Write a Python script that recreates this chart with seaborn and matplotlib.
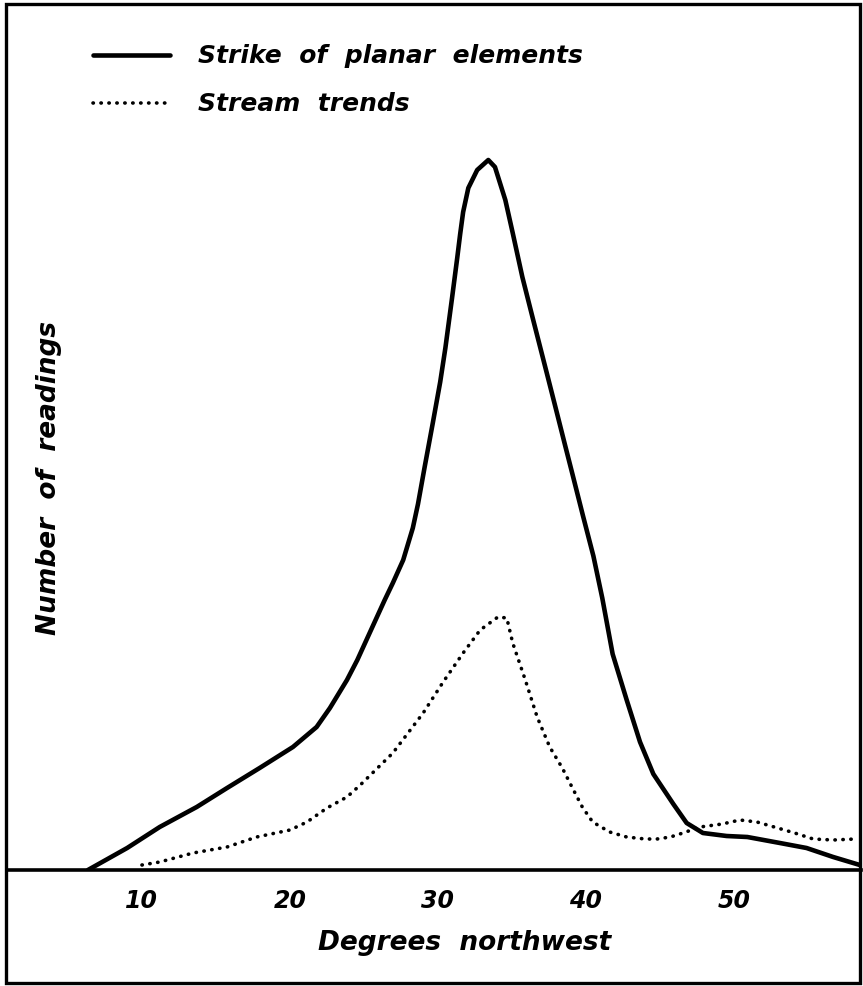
import matplotlib
matplotlib.use("Agg")
import matplotlib.pyplot as plt
from matplotlib.patches import Rectangle
import seaborn as sns
import pandas as pd

# Strike of planar elements (solid curve)
strike_deg = [6.35, 9.0, 11.2, 13.7, 15.75, 17.95, 20.2, 21.8, 22.7, 23.85, 24.55, 26.4,
              26.95, 27.65, 28.3, 28.65, 29.1, 29.65, 30.15, 30.5, 30.95, 31.3, 31.5, 31.7,
              32.05, 32.65, 33.4, 33.85, 34.55, 35.05, 35.7, 36.4, 37.35, 37.9, 38.6, 39.1,
              39.8, 40.5, 41.1, 41.8, 42.75, 43.65, 44.55, 45.9, 46.8, 47.9, 49.5, 50.9,
              53.1, 54.9, 56.7, 58.5]
strike_n = [0.0, 1.1, 2.15, 3.15, 4.1, 5.1, 6.15, 7.15, 8.1, 9.5, 10.5, 13.5,
            14.35, 15.5, 17.1, 18.3, 20.15, 22.35, 24.4, 26.1, 28.6, 30.6, 31.8, 32.9,
            34.1, 35.0, 35.5, 35.15, 33.5, 31.85, 29.65, 27.6, 24.85, 23.25, 21.2, 19.75,
            17.7, 15.7, 13.6, 10.8, 8.5, 6.4, 4.8, 3.3, 2.35, 1.85, 1.7, 1.65,
            1.35, 1.1, 0.65, 0.25]

# Stream trends (dotted curve)
stream_deg = [10.0, 11.2, 13.45, 15.75, 17.75, 20.0, 21.15, 22.5, 23.85, 24.75, 26.95, 29.0,
              30.35, 31.7, 32.85, 34.05, 34.65, 35.05, 35.9, 36.7, 37.55, 38.4, 39.05, 39.75,
              40.45, 41.6, 42.75, 44.0, 44.8, 45.7, 46.55, 47.7, 49.2, 50.4, 51.55, 52.95,
              54.1, 55.35, 56.7, 58.2]
stream_n = [0.25, 0.4, 0.85, 1.15, 1.65, 2.0, 2.4, 3.1, 3.65, 4.25, 5.85, 7.85,
            9.4, 10.85, 12.0, 12.65, 12.6, 11.35, 9.5, 7.65, 6.15, 5.1, 4.15, 3.15,
            2.4, 1.9, 1.65, 1.55, 1.55, 1.65, 1.85, 2.15, 2.3, 2.5, 2.4, 2.1,
            1.85, 1.55, 1.5, 1.55]

x_ticks = [10, 20, 30, 40, 50]
x_ticklabels = ["10", "20", "30", "40", "50"]

strike = pd.DataFrame({"deg": strike_deg, "n": strike_n})
stream = pd.DataFrame({"deg": stream_deg, "n": stream_n})

sns.set_style("white")
plt.rcParams["font.family"] = ["DejaVu Sans"]
plt.rcParams["text.color"] = "black"
plt.rcParams["axes.labelcolor"] = "black"
plt.rcParams["xtick.color"] = "black"

W, H = 863, 986
fig = plt.figure(figsize=(W / 100, H / 100), dpi=100)
ax = fig.add_axes([8 / W, (H - 870) / H, 853 / W, 865 / H])

sns.lineplot(data=strike, x="deg", y="n", ax=ax, color="black", lw=3.3,
             sort=False, label="Strike  of  planar  elements")
sns.lineplot(data=stream, x="deg", y="n", ax=ax, color="black", lw=2.6,
             sort=False, label="Stream  trends")
dotted = ax.lines[1]
dotted.set_dashes((0.1, 2.1))
dotted.set_dash_capstyle("round")
for ln in ax.lines:
    ln.set_solid_joinstyle("round")
    ln.set_solid_capstyle("round")

ax.set_xlim(0.95, 58.58)
ax.set_ylim(0, 43.25)

for side in ["left", "top", "right"]:
    ax.spines[side].set_visible(False)
ax.spines["bottom"].set_linewidth(2.6)
ax.spines["bottom"].set_color("black")

ax.set_yticks([])
ax.set_xticks(x_ticks)
ax.set_xticklabels(x_ticklabels, fontsize=17, style="italic", fontweight="bold")
ax.tick_params(axis="x", direction="out", length=4, width=2, pad=10, color="black")

ax.set_xlabel("Degrees  northwest", fontsize=19, style="italic", fontweight="bold",
              va="center")
ax.xaxis.set_label_coords((465 - 8) / 853, (870 - 943) / 865)
ax.set_ylabel("Number  of  readings", fontsize=19, style="italic", fontweight="bold",
              va="center", ha="center")
ax.yaxis.set_label_coords((49 - 8) / 853, (870 - 478) / 865)

leg = ax.legend(loc="upper left", bbox_to_anchor=(70 / W, 1 - 22 / H),
                bbox_transform=fig.transFigure, frameon=False, handlelength=3.1,
                handletextpad=1.1, labelspacing=0.95,
                prop={"size": 18, "style": "italic", "weight": "bold"})
leg_lines = leg.get_lines()
leg_lines[1].set_dashes((0.1, 2.1))
leg_lines[1].set_dash_capstyle("round")

# border around the whole figure
fig.patches.append(Rectangle((6 / W, 3 / H), 854 / W, 979 / H, transform=fig.transFigure,
                             fill=False, lw=2.4, edgecolor="black"))

fig.savefig("out.png", dpi=100)
